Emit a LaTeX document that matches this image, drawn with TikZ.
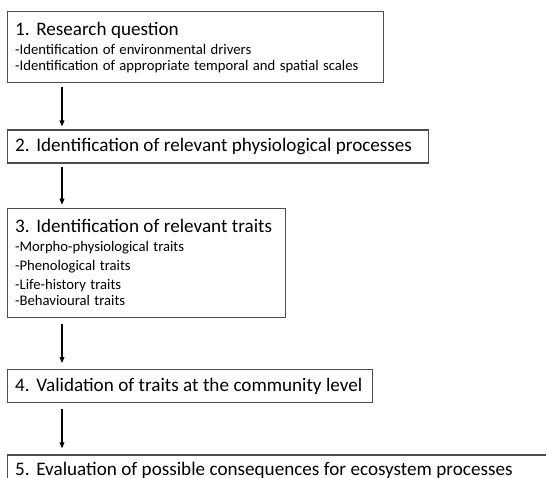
\documentclass[tikz,border=0pt]{standalone}
\usepackage{fontspec}
\setmainfont{Carlito}[WordSpace=0.6]
\usetikzlibrary{arrows.meta,positioning}
\hyphenpenalty=10000

\tikzset{
  stepbox/.style={draw=black!70, line width=1pt, anchor=north west,
    inner xsep=5.6pt, inner ysep=0pt, align=left},
  flow/.style={-{Triangle[length=4.5pt,width=3.6pt]}, line width=0.8pt,
    shorten <=2.5pt, shorten >=2.25pt},
  longflow/.style={flow, shorten <=4.5pt, shorten >=4.5pt},
}
\newcommand{\steptitle}{\fontsize{14.35}{18}\selectfont}
\newcommand{\stepsub}{\fontsize{11}{14.25}\selectfont}

\begin{document}
\begin{tikzpicture}
  \clip (0,0) rectangle (409.5pt,-358.5pt);
  \node[stepbox, text width=270.8pt, minimum height=53.25pt] (research) at (5.25pt,-8.25pt)
    {\steptitle 1. Research question\\
     \stepsub -Identification of environmental drivers\\
     -Identification of appropriate temporal and spatial scales};
  \node[stepbox, text width=304.5pt, minimum height=24.75pt,
    below=34.5pt of research.south west, anchor=north west] (processes)
    {\steptitle\mbox{2. Identification of relevant physiological processes}};
  \node[stepbox, text width=197.3pt, minimum height=81.75pt,
    below=33pt of processes.south west, anchor=north west] (traits)
    {\steptitle 3. Identification of relevant traits\\
     \stepsub -Morpho-physiological traits\\
     -Phenological traits\\
     -Life-history traits\\
     -Behavioural traits};
  \node[stepbox, text width=262.5pt, minimum height=24.75pt,
    below=38.25pt of traits.south west, anchor=north west] (validation)
    {\steptitle\mbox{4. Validation of traits at the community level}};
  \node[stepbox, text width=420pt, minimum height=22.5pt,
    below=38.25pt of validation.south west, anchor=north west] (consequences)
    {\steptitle\mbox{5. Evaluation of possible consequences for ecosystem processes}};

  \draw[flow] ([xshift=41.25pt]research.south west) -- ([xshift=41.25pt]processes.north west);
  \draw[flow] ([xshift=41.25pt]processes.south west) -- ([xshift=41.25pt]traits.north west);
  \draw[longflow] ([xshift=41.25pt]traits.south west) -- ([xshift=41.25pt]validation.north west);
  \draw[longflow] ([xshift=41.25pt]validation.south west) -- ([xshift=41.25pt]consequences.north west);
\end{tikzpicture}
\end{document}
